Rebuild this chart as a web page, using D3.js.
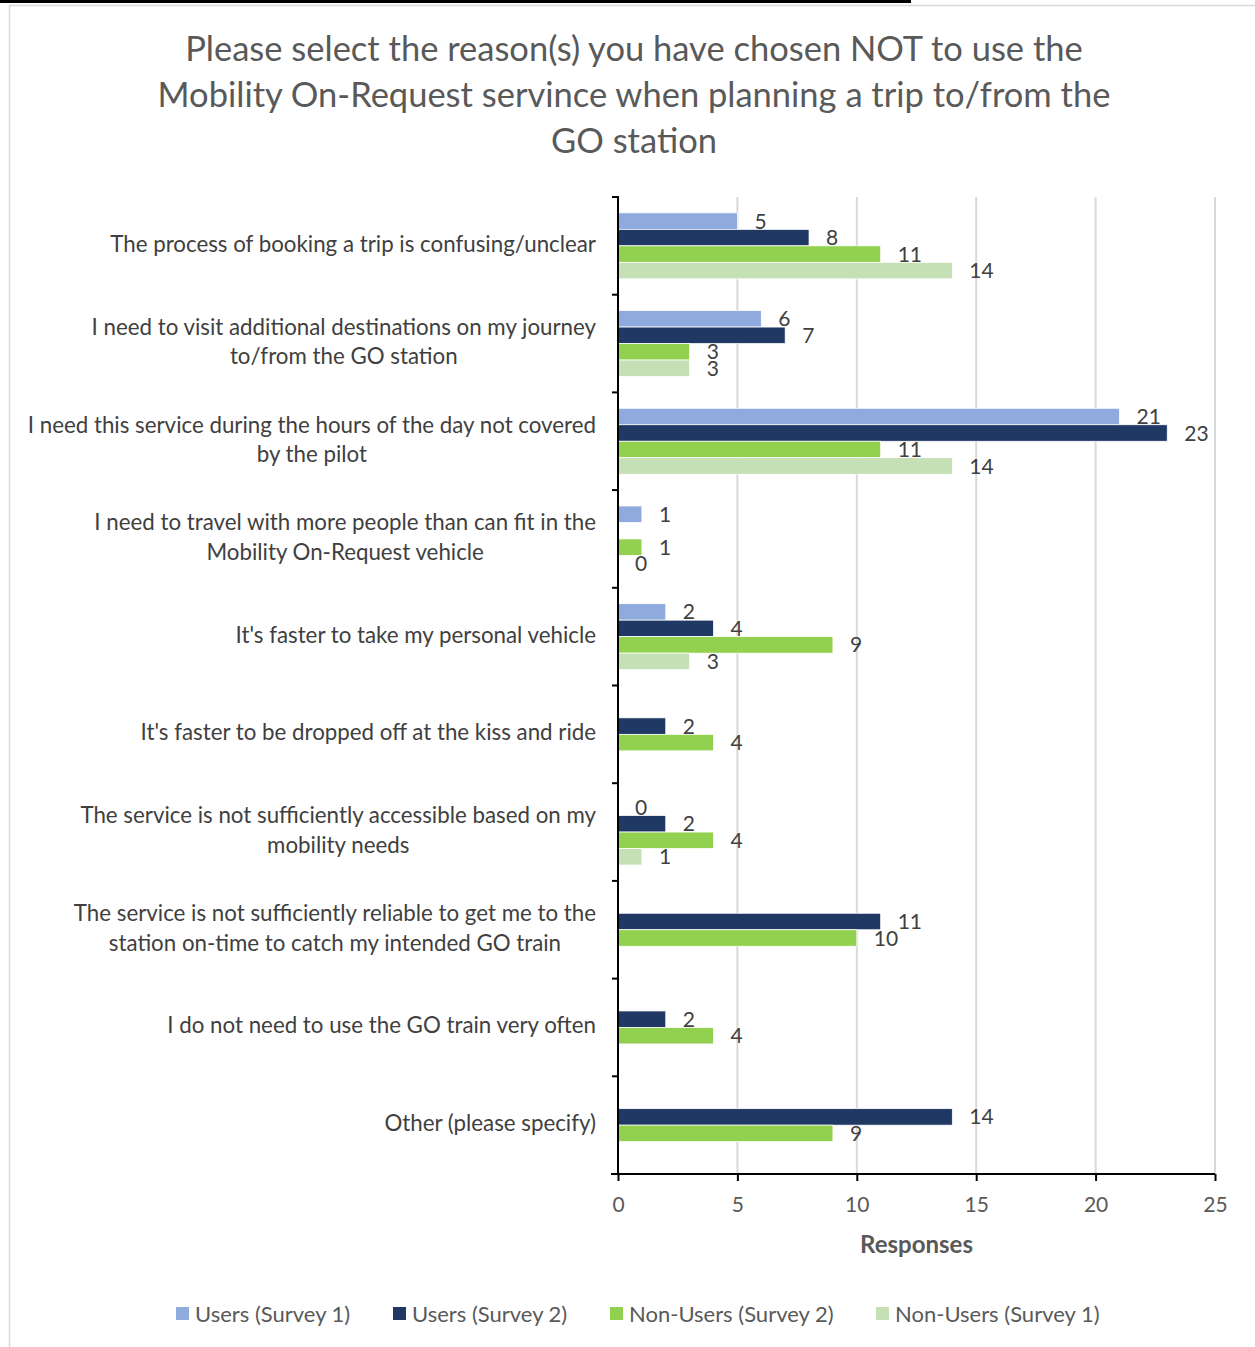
<!DOCTYPE html>
<html>
<head>
<meta charset="utf-8">
<script src="https://cdn.jsdelivr.net/npm/d3@7"></script>
<style>
  body { margin: 0; background: #fff; }
  svg { display: block; }
  text { font-family: Lato, "Open Sans", sans-serif; }
</style>
</head>
<body>
<svg id="chart" width="1255" height="1347"></svg>
<script>
// categories (each entry = lines of the wrapped label)
var categories = [
  ["The process of booking a trip is confusing/unclear"],
  ["I need to visit additional destinations on my journey", "to/from the GO station"],
  ["I need this service during the hours of the day not covered", "by the pilot"],
  ["I need to travel with more people than can fit in the", "Mobility On-Request vehicle"],
  ["It's faster to take my personal vehicle"],
  ["It's faster to be dropped off at the kiss and ride"],
  ["The service is not sufficiently accessible based on my", "mobility needs"],
  ["The service is not sufficiently reliable to get me to the", "station on-time to catch my intended GO train"],
  ["I do not need to use the GO train very often"],
  ["Other (please specify)"]
];

var seriesNames = ["Users (Survey 1)", "Users (Survey 2)", "Non-Users (Survey 2)", "Non-Users (Survey 1)"];
var seriesColors = ["#8FAADC", "#203864", "#92D050", "#C5E0B4"];

// null = no response recorded (no bar, no label)
var usersS1    = [5, 6, 21, 1, 2, null, 0, null, null, null];
var usersS2    = [8, 7, 23, null, 4, 2, 2, 11, 2, 14];
var nonUsersS2 = [11, 3, 11, 1, 9, 4, 4, 10, 4, 9];
var nonUsersS1 = [14, 3, 14, 0, 3, null, 1, null, null, null];

var xTicks = [0, 5, 10, 15, 20, 25];

var titleLines = [
  "Please select the reason(s) you have chosen NOT to use the",
  "Mobility On-Request servince when planning a trip to/from the",
  "GO station"
];

var allSeries = [usersS1, usersS2, nonUsersS2, nonUsersS1];

var svg = d3.select("#chart");

// page bits around the chart (cropped document)
svg.append("rect").attr("x", 0).attr("y", 0).attr("width", 911).attr("height", 3).attr("fill", "#000");
svg.append("line").attr("x1", 9).attr("x2", 1255).attr("y1", 5.5).attr("y2", 5.5).attr("stroke", "#D9D9D9").attr("stroke-width", 1.5);
svg.append("line").attr("x1", 9.5).attr("x2", 9.5).attr("y1", 5).attr("y2", 1347).attr("stroke", "#D9D9D9").attr("stroke-width", 1.5);

// title
svg.append("g").selectAll("text")
  .data(titleLines)
  .enter().append("text")
  .attr("x", 634)
  .attr("y", function(d, i) { return 61 + i * 46; })
  .attr("text-anchor", "middle")
  .attr("fill", "#595959")
  .style("font-size", "34.5px")
  .text(function(d) { return d; });

var pLeft = 618, pRight = 1215, pTop = 197, pBottom = 1174;

var x = d3.scaleLinear().domain([0, 25]).range([pLeft, pRight]);
var y = d3.scaleBand().domain(d3.range(categories.length)).range([pTop, pBottom]);
var groupH = y.bandwidth() * 0.675;
var ys = d3.scaleBand().domain(d3.range(seriesNames.length))
  .range([(y.bandwidth() - groupH) / 2, (y.bandwidth() + groupH) / 2]);

// gridlines
svg.append("g").selectAll("line")
  .data(xTicks.slice(1))
  .enter().append("line")
  .attr("x1", function(d) { return x(d); })
  .attr("x2", function(d) { return x(d); })
  .attr("y1", pTop).attr("y2", pBottom)
  .attr("stroke", "#D9D9D9").attr("stroke-width", 2);

// bars
var bars = [];
allSeries.forEach(function(vals, s) {
  vals.forEach(function(v, c) {
    if (v !== null) bars.push({s: s, c: c, v: v});
  });
});

var plot = svg.append("g");
plot.selectAll("rect")
  .data(bars)
  .enter().append("rect")
  .attr("x", x(0))
  .attr("y", function(d) { return y(d.c) + ys(d.s); })
  .attr("width", function(d) { return x(d.v) - x(0); })
  .attr("height", ys.bandwidth())
  .attr("fill", function(d) { return seriesColors[d.s]; })
  .attr("stroke", "#fff").attr("stroke-width", 0.75);

plot.selectAll("text")
  .data(bars)
  .enter().append("text")
  .attr("x", function(d) { return x(d.v) + 17; })
  .attr("y", function(d) { return y(d.c) + ys(d.s) + ys.bandwidth() / 2; })
  .attr("dy", "0.36em")
  .attr("fill", "#404040")
  .style("font-size", "21px")
  .text(function(d) { return d.v; });

// x axis
var xAxis = d3.axisBottom(x).tickValues(xTicks).tickSize(7).tickPadding(16);
var gx = svg.append("g").attr("transform", "translate(0," + pBottom + ")").call(xAxis);
gx.select(".domain").attr("d", "M" + (pLeft - 7) + ",0H" + pRight).attr("stroke", "#000").attr("stroke-width", 2);
gx.selectAll(".tick line").attr("stroke", "#000").attr("stroke-width", 2);
gx.selectAll(".tick text").attr("fill", "#595959").style("font-size", "21px").style("font-family", "Lato, sans-serif");

// y axis line + ticks on category boundaries
var gy = svg.append("g");
gy.append("line").attr("x1", pLeft).attr("x2", pLeft).attr("y1", pTop - 1).attr("y2", pBottom)
  .attr("stroke", "#000").attr("stroke-width", 2);
gy.selectAll(".yt")
  .data(d3.range(categories.length + 1))
  .enter().append("line")
  .attr("x1", pLeft - 6).attr("x2", pLeft)
  .attr("y1", function(i) { return pTop + i * y.step(); })
  .attr("y2", function(i) { return pTop + i * y.step(); })
  .attr("stroke", "#000").attr("stroke-width", 2);

// category labels: block right aligned, lines centered
var labelRight = 596;
var lh = 29.5;
categories.forEach(function(lines, c) {
  var g = svg.append("g");
  var cy = y(c) + y.bandwidth() / 2 - 2;
  var texts = g.selectAll("text")
    .data(lines)
    .enter().append("text")
    .attr("y", function(d, i) { return cy + (i - (lines.length - 1) / 2) * lh; })
    .attr("dy", "0.36em")
    .attr("fill", "#404040")
    .attr("text-anchor", "middle")
    .style("font-size", "22.3px")
    .text(function(d) { return d; });
  var maxW = 0;
  texts.each(function() { maxW = Math.max(maxW, this.getComputedTextLength()); });
  texts.attr("x", labelRight - maxW / 2);
});

// axis title
svg.append("text")
  .attr("x", (pLeft + pRight) / 2)
  .attr("y", 1253)
  .attr("text-anchor", "middle")
  .attr("fill", "#595959")
  .style("font-size", "24px")
  .style("font-weight", "bold")
  .text("Responses");

// legend
var legendX = [176, 393, 610, 876];
var lg = svg.append("g").selectAll("g")
  .data(seriesNames)
  .enter().append("g")
  .attr("transform", function(d, i) { return "translate(" + legendX[i] + ",1314)"; });
lg.append("rect").attr("x", 0).attr("y", -7).attr("width", 13).attr("height", 13)
  .attr("fill", function(d, i) { return seriesColors[i]; });
lg.append("text").attr("x", 19).attr("y", 0).attr("dy", "0.36em")
  .attr("fill", "#595959").style("font-size", "22px")
  .text(function(d) { return d; });
</script>
</body>
</html>
